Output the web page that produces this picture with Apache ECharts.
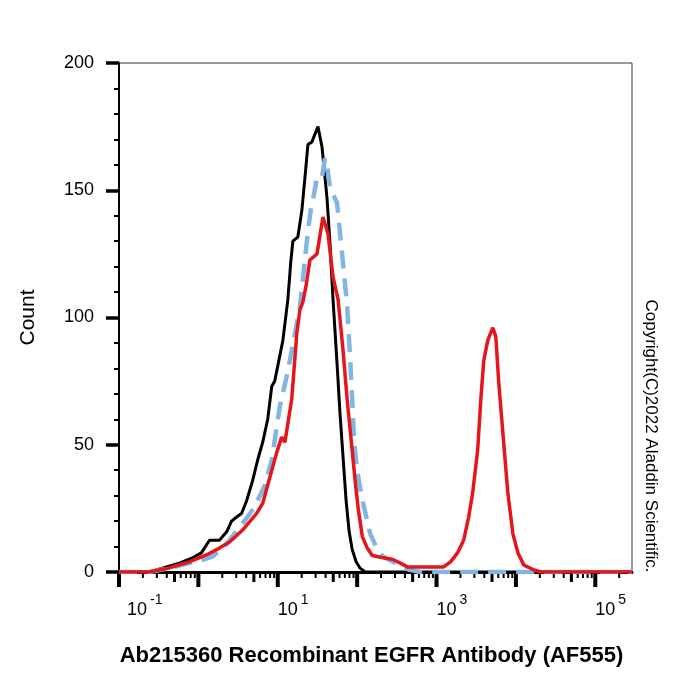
<!DOCTYPE html>
<html>
<head>
<meta charset="utf-8">
<script src="https://cdn.jsdelivr.net/npm/echarts@6/dist/echarts.min.js"></script>
<style>
  html, body { margin: 0; padding: 0; background: #fff; }
  #chart_container { width: 700px; height: 700px; }
</style>
</head>
<body>
<div id="chart_container"></div>
<script>
// values (fluorescence intensity, count)
var blackX = [0.1, 0.24, 0.35, 0.575, 0.84, 1.09, 1.38, 1.84, 2.26, 2.62, 3.03, 3.5, 4.05, 4.83, 5.58, 6.46, 7.47, 8.4, 9.16, 11.6, 13.4, 14.6, 15.5, 17.9, 20.1, 22.0, 24.0, 26.9, 32.1, 36.1, 41.7, 45.5, 49.7, 55.8, 60.9, 66.5, 72.6, 79.2, 86.4, 97.1, 109, 126, 290000];
var blackY = [0, 0, 1.5, 3.5, 5.5, 7.5, 12.5, 12.5, 15.7, 20, 21.6, 23, 28, 36, 44, 51, 60, 73, 75, 91, 107, 122, 130, 131.6, 142, 155, 168, 169, 175, 167, 147, 129, 107, 82, 62, 45, 28, 16, 9, 4, 1.5, 0, 0];

var blueX = [0.1, 0.24, 0.43, 0.769, 1.19, 1.5, 2.26, 3.61, 5.12, 6.85, 8.4, 10.6, 13.0, 14.2, 19.0, 21.2, 24.0, 26.0, 27.7, 31.2, 36.1, 39.3, 41.7, 45.5, 55.8, 60.9, 70.5, 74.7, 81.5, 86.4, 91.6, 100, 109, 119, 146, 179, 213, 262, 350, 442, 627, 290000];
var blueY = [0, 0, 1.5, 3.5, 5, 6, 11, 19, 25.5, 34, 44, 65, 77, 83, 104, 118, 134, 142, 146, 155, 155, 162.5, 160, 151, 145, 133, 113, 105, 84, 68, 51, 40, 33, 27, 15, 9, 6, 4.5, 2.5, 1, 0, 0];

var redX = [0.1, 0.24, 0.43, 0.769, 1.26, 1.84, 2.47, 3.61, 5.42, 6.46, 7.92, 9.71, 11.2, 12.3, 13.0, 15.0, 17.4, 19.0, 20.7, 22.6, 25.4, 31.2, 37.1, 42.9, 49.7, 57.5, 66.5, 74.7, 86.4, 94.3, 103, 116, 134, 155, 196, 277, 350, 429, 1230, 1500, 1840, 2200, 2540, 2850, 3300, 3610, 3930, 4420, 5120, 5580, 6090, 6840, 7920, 9160, 10600, 12600, 16900, 20700, 290000];
var redY = [0, 0, 1.6, 4, 6.7, 9.4, 11.8, 16.5, 23, 27, 37, 47, 53, 51, 51.5, 68, 94, 103, 106, 112, 122.6, 125, 139.5, 133, 116, 107, 87, 68, 48, 36, 25, 14, 9.4, 6.5, 5.8, 5, 3.5, 2, 2, 4, 7.5, 12.6, 21.6, 31, 48, 67.6, 83, 91, 96, 92.5, 74, 55, 31, 15, 7.5, 2.7, 0.8, 0, 0];

var xMin = 0.1, xMax = 290000;
var labelExponents = [-1, 1, 3, 5];

function pairs(xs, ys) {
    var out = [];
    for (var i = 0; i < xs.length; i++) out.push([xs[i], ys[i]]);
    return out;
}

// decade ticks (1..9 x 10^e) for the log axis
var tickData = [];
for (var e = -1; e <= 5; e++) {
    for (var m = 1; m <= 9; m++) {
        var v = m * Math.pow(10, e);
        if (v >= xMin && v <= xMax) tickData.push([v, m]);
    }
}

var dom = document.getElementById("chart_container");
var myChart = echarts.init(dom, null, { renderer: 'canvas' });
var FONT = 'Liberation Sans, Arial, sans-serif';

option = {
    animation: false,
    backgroundColor: '#fff',
    textStyle: { fontFamily: FONT, color: '#000' },
    grid: {
        left: 119, right: 68, top: 63, bottom: 128,
        show: true, borderColor: '#333', borderWidth: 1
    },
    xAxis: {
        type: 'log',
        logBase: 10,
        min: xMin,
        max: xMax,
        name: 'Ab215360 Recombinant EGFR Antibody (AF555)',
        nameLocation: 'middle',
        nameGap: 73,
        nameTextStyle: { fontSize: 22, fontWeight: 'bold', color: '#000', fontFamily: FONT, padding: [0, 8, 0, 0] },
        axisLine: { show: true, lineStyle: { color: '#000', width: 3 } },
        axisTick: { show: false },
        minorTick: { show: false },
        splitLine: { show: false },
        axisLabel: {
            interval: 0,
            margin: 26,
            align: 'left',
            color: '#000',
            formatter: function (value) {
                var lg = Math.log10(value);
                var ex = Math.round(lg);
                if (Math.abs(lg - ex) > 1e-6) return '';
                if (labelExponents.indexOf(ex) < 0) return '';
                var base = ex < 0 ? 'bm' : 'b';
                return '{' + base + '|10}{s|' + ex + '}';
            },
            rich: {
                b: { fontSize: 18, lineHeight: 24, color: '#000', fontFamily: FONT },
                bm: { fontSize: 18, lineHeight: 24, color: '#000', fontFamily: FONT, padding: [0, 0, 0, 8] },
                s: { fontSize: 14, lineHeight: 14, color: '#000', fontFamily: FONT, padding: [0, 0, 20, 3] }
            }
        }
    },
    yAxis: {
        type: 'value',
        min: 0,
        max: 200,
        interval: 50,
        name: 'Count',
        nameLocation: 'middle',
        nameRotate: 90,
        nameGap: 80,
        nameTextStyle: { fontSize: 21, color: '#000', fontFamily: FONT },
        axisLine: { show: true, lineStyle: { color: '#000', width: 2 } },
        axisTick: { show: true, length: 13, lineStyle: { color: '#000', width: 3.5 } },
        minorTick: { show: true, splitNumber: 5, length: 5, lineStyle: { color: '#000', width: 2 } },
        splitLine: { show: false },
        axisLabel: { fontSize: 18, color: '#000', margin: 25, fontFamily: FONT }
    },
    graphic: [{
        type: 'text',
        x: 651,
        y: 436,
        rotation: -Math.PI / 2,
        style: {
            text: 'Copyright(C)2022 Aladdin Scientific.',
            fontSize: 17,
            fontFamily: FONT,
            fill: '#000',
            align: 'center',
            verticalAlign: 'middle'
        }
    }],
    series: [
        {
            name: 'ticks',
            type: 'custom',
            silent: true,
            clip: false,
            data: tickData,
            encode: { x: 0 },
            renderItem: function (params, api) {
                var p = api.coord([api.value(0), 0]);
                var m = api.value(1);
                var len = m === 1 ? 15 : (m === 5 ? 10 : 6);
                var w = m === 1 ? 4 : (m === 5 ? 3 : 2);
                return {
                    type: 'line',
                    shape: { x1: p[0], y1: p[1], x2: p[0], y2: p[1] + len },
                    style: { stroke: '#000', lineWidth: w }
                };
            }
        },
        {
            name: 'black',
            type: 'line',
            data: pairs(blackX, blackY),
            showSymbol: false,
            lineStyle: { color: '#000', width: 3 },
            itemStyle: { color: '#000' },
            z: 3
        },
        {
            name: 'blue',
            type: 'line',
            data: pairs(blueX, blueY),
            showSymbol: false,
            lineStyle: { color: '#82b5e3', width: 4.5, type: [18, 10] },
            itemStyle: { color: '#82b5e3' },
            z: 4
        },
        {
            name: 'red',
            type: 'line',
            data: pairs(redX, redY),
            showSymbol: false,
            lineStyle: { color: '#e3161c', width: 3.5 },
            itemStyle: { color: '#e3161c' },
            z: 5
        }
    ]
};
if (option && typeof option === "object") {
    myChart.setOption(option, true);
}
</script>
</body>
</html>
